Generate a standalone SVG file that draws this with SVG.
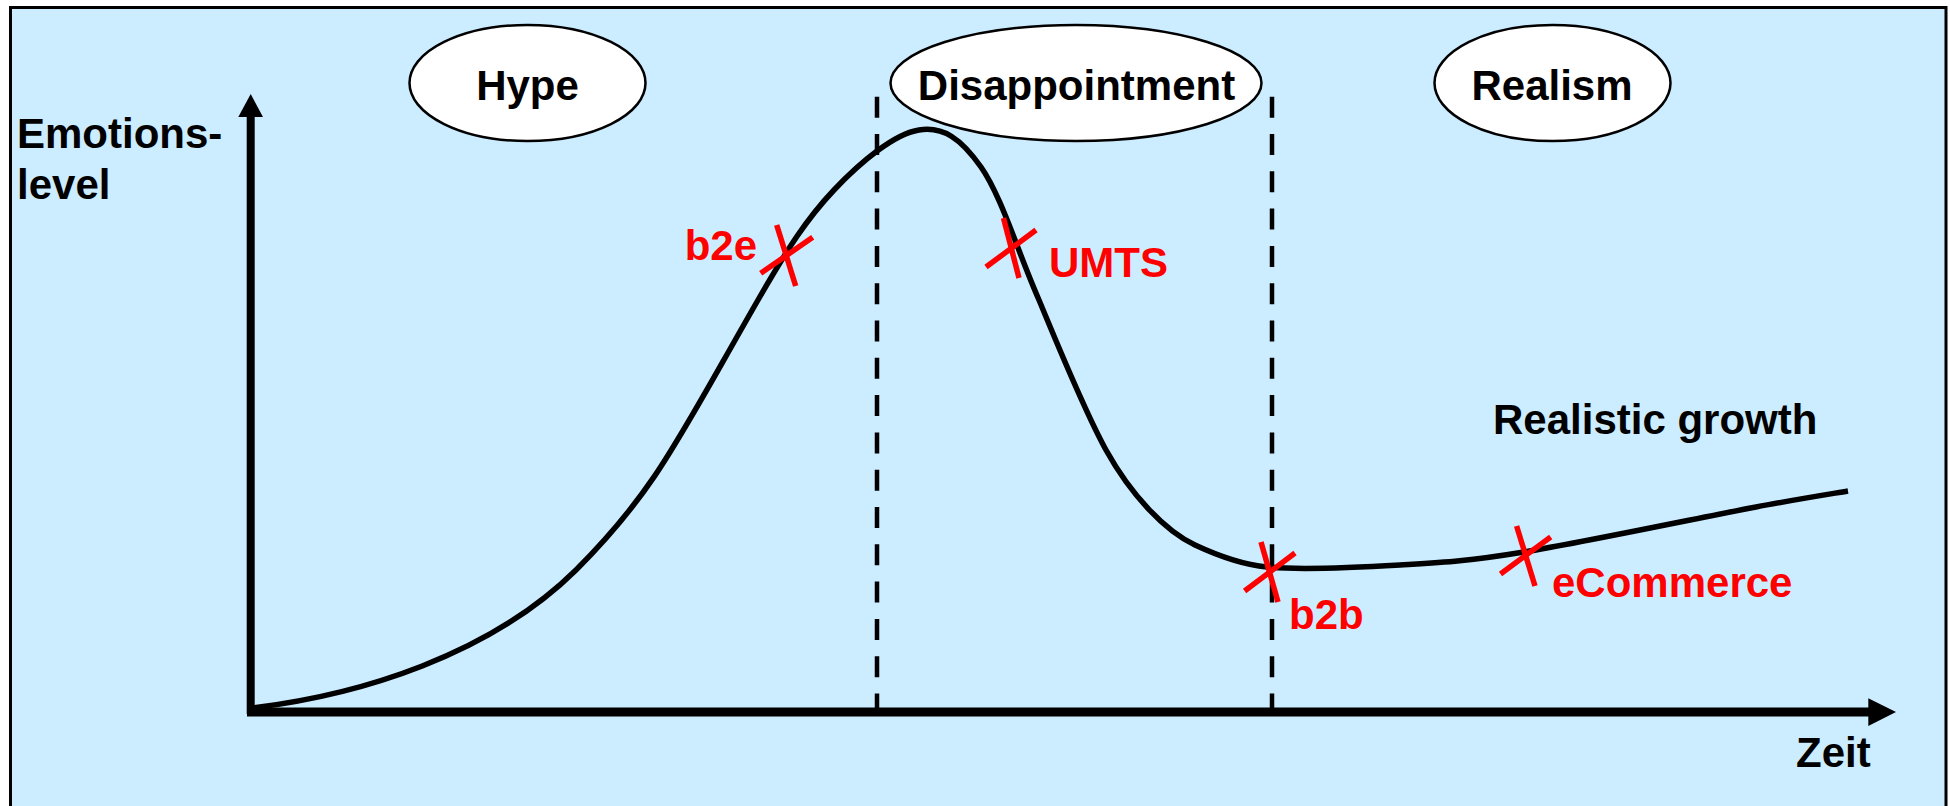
<svg xmlns="http://www.w3.org/2000/svg" width="1950" height="806" viewBox="0 0 1950 806">
  <style>
    .lbl { font-family: "Liberation Sans", Arial, sans-serif; font-weight: bold; font-size: 42px; fill: #000000; }
    .red { fill: #FF0000; }
    .phase { fill: #FFFFFF; stroke: #000000; stroke-width: 2.5; }
    .axis { stroke: #000000; fill: none; }
    .dash { stroke: #000000; stroke-width: 4.5; stroke-dasharray: 21 16.3; fill: none; }
    .curve { stroke: #000000; stroke-width: 5.5; fill: none; stroke-linejoin: round; }
    .cross { stroke: #FF0000; stroke-width: 5.5; fill: none; }
  </style>
  <rect x="0" y="0" width="1950" height="806" fill="#FFFFFF"/>
  <rect id="frame" x="10.5" y="7.5" width="1935.5" height="810" fill="#CCECFF" stroke="#000000" stroke-width="3"/>

  <g id="connectors">
    <line class="dash" x1="877" y1="96.7" x2="877" y2="708"/>
    <line class="dash" x1="1272" y1="96.7" x2="1272" y2="708"/>
    <line class="axis" x1="250.7" y1="714" x2="250.7" y2="114" stroke-width="8"/>
    <polygon points="250.7,94 238.3,117 263,117" fill="#000000"/>
    <line class="axis" x1="247" y1="712" x2="1870" y2="712" stroke-width="9"/>
    <polygon points="1896,712 1868.3,698.3 1868.3,726" fill="#000000"/>
    <path class="curve" d="M252,708 C360,695 490,655 576,570 C656,490 678,439.2 758,300 C788,247.8 807.2,218.3 834,190 C860.8,161.7 894.5,133.8 919,130 C943.5,126.2 961,138.7 981,167 C1001,195.3 1018.2,252.8 1039,300 C1059,348 1084,410 1106,450 C1131,495 1165,531 1195,545 C1220,556.7 1242,564.6 1267,567 C1301.2,570.3 1357.2,567.5 1400,565 C1442.8,562.5 1464.7,561.7 1524,552 C1583.3,542.3 1702,517.2 1756,507 C1787,501 1818,496 1848,491"/>
  </g>

  <g id="hype">
    <ellipse class="phase" cx="527.5" cy="83" rx="118" ry="58"/>
    <text class="lbl" x="527.5" y="100" text-anchor="middle">Hype</text>
  </g>
  <g id="disappointment">
    <ellipse class="phase" cx="1076" cy="83" rx="185.5" ry="58"/>
    <text class="lbl" x="1076.5" y="100" text-anchor="middle">Disappointment</text>
  </g>
  <g id="realism">
    <ellipse class="phase" cx="1552.5" cy="83" rx="118" ry="58"/>
    <text class="lbl" x="1552" y="100" text-anchor="middle">Realism</text>
  </g>

  <g id="y-axis-label">
    <text class="lbl" x="17" y="148">Emotions-</text>
    <text class="lbl" x="17" y="199">level</text>
  </g>
  <g id="x-axis-label">
    <text class="lbl" x="1796" y="767">Zeit</text>
  </g>
  <g id="realistic-growth">
    <text class="lbl" x="1493" y="434">Realistic growth</text>
  </g>

  <g id="b2e">
    <line class="cross" x1="776.7" y1="225" x2="795.7" y2="286"/>
    <line class="cross" x1="760.7" y1="273.3" x2="812.7" y2="237.3"/>
    <text class="lbl red" x="757" y="260" text-anchor="end">b2e</text>
  </g>
  <g id="umts">
    <line class="cross" x1="1003.5" y1="218" x2="1019" y2="278"/>
    <line class="cross" x1="986" y1="267" x2="1036" y2="230"/>
    <text class="lbl red" x="1049" y="277">UMTS</text>
  </g>
  <g id="b2b">
    <line class="cross" x1="1261" y1="542" x2="1278" y2="602"/>
    <line class="cross" x1="1244.6" y1="591" x2="1295" y2="553"/>
    <text class="lbl red" x="1289" y="629">b2b</text>
  </g>
  <g id="ecommerce">
    <line class="cross" x1="1516.6" y1="526" x2="1535" y2="586"/>
    <line class="cross" x1="1500.5" y1="574" x2="1550.7" y2="537"/>
    <text class="lbl red" x="1552" y="597">eCommerce</text>
  </g>
</svg>
